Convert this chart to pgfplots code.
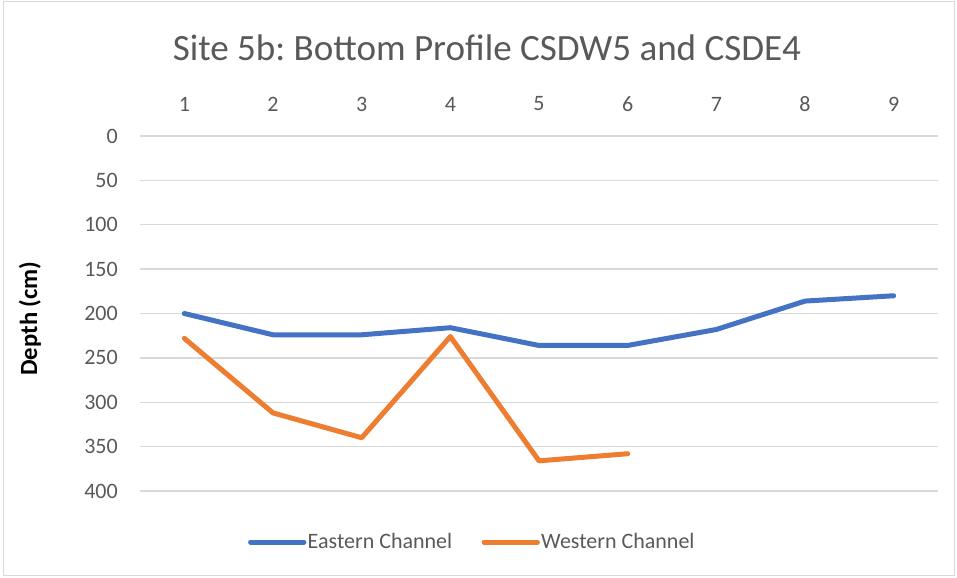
\documentclass[border=0pt]{standalone}
\usepackage{fontspec}
\setmainfont{Carlito}
\frenchspacing
\usepackage{pgfplots}
\pgfplotsset{compat=1.18}
\definecolor{eastblue}{HTML}{4472C4}
\definecolor{westorange}{HTML}{ED7D31}
\definecolor{gridgray}{HTML}{D9D9D9}
\definecolor{textgray}{HTML}{595959}
\begin{document}
\begin{tikzpicture}
	% whole chart area, 1px = 0.75pt
	\path[use as bounding box] (-105pt,-65.25pt) rectangle (612.75pt,368.25pt);
	\draw[gridgray, line width=0.75pt] (-102pt,-63.75pt) rectangle (610.5pt,366.75pt);
	\node[text=textgray, font=\fontsize{27.8}{32}\selectfont] at (260.25pt,332.25pt) {Site 5b: Bottom Profile CSDW5 and CSDE4};
	\begin{axis}[
		at={(0,0)}, anchor=south west,
		scale only axis, width=598.5pt, height=266.25pt,
		xmin=0.5, xmax=9.5, ymin=0, ymax=400,
		y dir=reverse,
		xtick={1,...,9}, ytick={0,50,...,400},
		xticklabel pos=top,
		major tick length=0pt,
		axis line style={draw=none},
		ymajorgrids, grid style={gridgray, line width=1.1pt},
		tick label style={text=textgray, font=\fontsize{16.5}{19}\selectfont},
		/pgf/number format/assume math mode=true,
		xticklabel style={anchor=center, yshift=24pt},
		yticklabel style={anchor=east, inner sep=0pt, xshift=-16.5pt},
		ylabel={\textbf{Depth (cm)}},
		every axis y label/.style={at={(axis description cs:0,0.5)}, rotate=90, anchor=center, yshift=82.5pt, xshift=-3.75pt, font=\fontsize{18.5}{21}\selectfont},
		legend columns=2,
		legend style={at={(0.416,-0.1437)}, anchor=center, draw=none, fill=none,
			font=\fontsize{16.5}{19}\selectfont, text=textgray,
			/tikz/every even column/.append style={column sep=21pt},
			nodes={inner xsep=1pt}},
		legend image code/.code={\draw[#1, line cap=round] (0pt,0pt) -- (40pt,0pt);},
		every axis plot/.append style={line width=3.75pt, line cap=round, line join=round},
	]
		\addplot[eastblue, mark=none] coordinates {
			(1,200) (2,224) (3,224) (4,216) (5,236) (6,236) (7,218) (8,186) (9,180)
		};
		\addlegendentry{Eastern Channel}
		\addplot[westorange, mark=none] coordinates {
			(1,228) (2,312) (3,340) (4,226) (5,366) (6,358)
		};
		\addlegendentry{Western Channel}
	\end{axis}
\end{tikzpicture}
\end{document}
